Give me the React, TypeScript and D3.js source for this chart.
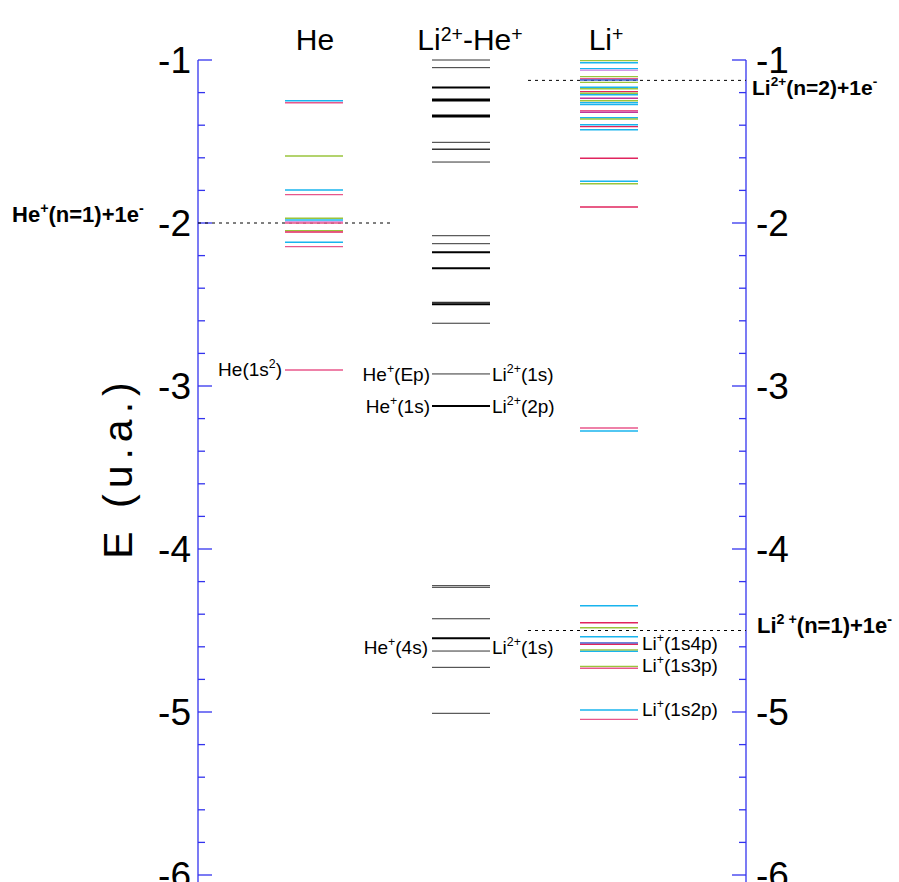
import React from "react";
import * as d3 from "d3";

const W = 899;
const H = 882;

const axisTicks = [-1, -2, -3, -4, -5, -6];

const heEnergies = [-1.25, -1.262, -1.589, -1.798, -1.826, -1.971, -1.982, -1.992, -2.0, -2.047, -2.055, -2.118, -2.145, -2.902];
const heKinds = ["c", "p", "g", "c", "p", "g", "c", "l", "p", "g", "r", "c", "p", "p"];

const molEnergies = [-1.0, -1.047, -1.168, -1.245, -1.344, -1.505, -1.548, -1.626, -2.078, -2.127, -2.18, -2.278, -2.487, -2.499, -2.615, -2.926, -3.123, -4.225, -4.235, -4.428, -4.548, -4.626, -4.726, -5.008];
const molWeights = [1, 1, 2, 3, 3, 1, 1.5, 1, 1, 1, 2, 2, 1.5, 2, 1, 1, 2, 1, 1, 1, 2, 1, 1, 1];

const liEnergies = [-1.004, -1.017, -1.053, -1.063, -1.102, -1.115, -1.123, -1.137, -1.167, -1.176, -1.194, -1.204, -1.213, -1.235, -1.25, -1.262, -1.274, -1.311, -1.321, -1.354, -1.362, -1.397, -1.409, -1.428, -1.603, -1.744, -1.759, -1.902, -3.258, -3.276, -4.348, -4.452, -4.483, -4.538, -4.577, -4.585, -4.62, -4.628, -4.72, -4.732, -4.988, -5.045];
const liKinds = ["g", "c", "c", "l", "g", "p", "b", "g", "c", "g", "r", "g", "c", "m", "g", "c", "c", "p", "m", "c", "g", "c", "r", "c", "r", "c", "g", "r", "p", "c", "c", "r", "g", "c", "b", "r", "g", "c", "g", "p", "c", "p"];

const thresholds = [-2.0, -1.125, -4.5];

const kindColor: Record<string, string> = {
  c: "#19b4ee",
  p: "#e8578b",
  g: "#9ac43c",
  r: "#e0245e",
  m: "#c0339a",
  l: "#d49ae6",
  b: "#3a5fcf",
};

export default function App() {
  const y = d3.scaleLinear().domain([-1, -6]).range([60, 875]);
  const minor = d3.range(-1, -6.001, -0.2).map((v) => Math.round(v * 10) / 10);
  const axL = 198;
  const axR = 746;
  const he = [285, 343];
  const mol = [432, 490];
  const li = [580, 638];
  const font = "Liberation Sans, Arial, sans-serif";

  const sup = (t: string, dy = -7) => (
    <tspan dy={dy} fontSize="0.65em">{t}</tspan>
  );

  return (
    <svg width={W} height={H} style={{ position: "absolute", left: 0, top: 0, background: "#fff" }} fontFamily={font}>
      {/* axes */}
      <line x1={axL} x2={axL} y1={y(-1)} y2={H} stroke="#3333ee" strokeWidth={1.3} />
      <line x1={axR} x2={axR} y1={y(-1)} y2={H} stroke="#3333ee" strokeWidth={1.3} />
      {minor.map((v) => {
        const major = Math.abs(v - Math.round(v)) < 1e-6;
        const len = major ? 14 : 7;
        return (
          <g key={v}>
            <line x1={axL} x2={axL + len} y1={y(v)} y2={y(v)} stroke="#3333ee" strokeWidth={1.3} />
            <line x1={axR} x2={axR - len} y1={y(v)} y2={y(v)} stroke="#3333ee" strokeWidth={1.3} />
          </g>
        );
      })}
      {axisTicks.map((v) => (
        <g key={v} fontSize={37}>
          <text x={191} y={y(v) + 13} textAnchor="end">{v}</text>
          <text x={756} y={y(v) + 13} textAnchor="start">{v}</text>
        </g>
      ))}
      <text transform={`translate(132,${y(-3.5)}) rotate(-90)`} textAnchor="middle" fontSize={41} letterSpacing={6}>E (u.a.)</text>

      {/* headers */}
      <text x={315} y={50} textAnchor="middle" fontSize={30}>He</text>
      <text x={470} y={50} textAnchor="middle" fontSize={30}>Li{sup("2+", -9)}<tspan dy={9}>-He</tspan>{sup("+", -9)}</text>
      <text x={606} y={50} textAnchor="middle" fontSize={30}>Li{sup("+", -9)}</text>

      {/* thresholds */}
      <line x1={axL} x2={392} y1={y(thresholds[0])} y2={y(thresholds[0])} stroke="#000" strokeDasharray="3,4" strokeWidth={1} />
      <line x1={528} x2={axR} y1={y(thresholds[1])} y2={y(thresholds[1])} stroke="#000" strokeDasharray="3,4" strokeWidth={1} />
      <line x1={528} x2={axR} y1={y(thresholds[2])} y2={y(thresholds[2])} stroke="#000" strokeDasharray="3,4" strokeWidth={1} />

      {/* He levels */}
      {heEnergies.map((e, i) => (
        <line key={"he" + i} x1={he[0]} x2={he[1]} y1={y(e)} y2={y(e)} stroke={kindColor[heKinds[i]]} strokeWidth={1.4} />
      ))}
      {/* Li2+-He+ levels */}
      {molEnergies.map((e, i) => (
        <line key={"mol" + i} x1={mol[0]} x2={mol[1]} y1={y(e)} y2={y(e)} stroke={molWeights[i] >= 2 ? "#000" : "#333"} strokeWidth={molWeights[i]} />
      ))}
      {/* Li+ levels */}
      {liEnergies.map((e, i) => (
        <line key={"li" + i} x1={li[0]} x2={li[1]} y1={y(e)} y2={y(e)} stroke={kindColor[liKinds[i]]} strokeWidth={1.4} />
      ))}

      {/* threshold labels */}
      <g fontWeight="bold" fontSize={21}>
        <text x={12} y={y(-2) - 1} fontSize={22}>He{sup("+", -9)}<tspan dy={9}>(n=1)+1e</tspan>{sup("-", -9)}</text>
        <text x={752} y={y(-1.125) + 15}>Li{sup("2+", -9)}<tspan dy={9}>(n=2)+1e</tspan>{sup("-", -9)}</text>
        <text x={757} y={y(-4.5) + 2} fontSize={22}>Li{sup("2 +", -9)}<tspan dy={9}>(n=1)+1e</tspan>{sup("-", -9)}</text>
      </g>

      {/* state labels */}
      <g fontSize={19}>
        <text x={282} y={y(-2.902) + 6} textAnchor="end">He(1s{sup("2", -8)}<tspan dy={8}>)</tspan></text>
        <text x={430} y={y(-2.926) + 7} textAnchor="end">He{sup("+", -8)}<tspan dy={8}>(Ep)</tspan></text>
        <text x={492} y={y(-2.926) + 7}>Li{sup("2+", -8)}<tspan dy={8}>(1s)</tspan></text>
        <text x={430} y={y(-3.123) + 7} textAnchor="end">He{sup("+", -8)}<tspan dy={8}>(1s)</tspan></text>
        <text x={492} y={y(-3.123) + 7}>Li{sup("2+", -8)}<tspan dy={8}>(2p)</tspan></text>
        <text x={428} y={y(-4.6) + 7} textAnchor="end">He{sup("+", -8)}<tspan dy={8}>(4s)</tspan></text>
        <text x={492} y={y(-4.6) + 7}>Li{sup("2+", -8)}<tspan dy={8}>(1s)</tspan></text>
        <text x={642} y={y(-4.58) + 6}>Li{sup("+", -8)}<tspan dy={8}>(1s4p)</tspan></text>
        <text x={642} y={y(-4.72) + 6}>Li{sup("+", -8)}<tspan dy={8}>(1s3p)</tspan></text>
        <text x={642} y={y(-4.99) + 6}>Li{sup("+", -8)}<tspan dy={8}>(1s2p)</tspan></text>
      </g>
    </svg>
  );
}
